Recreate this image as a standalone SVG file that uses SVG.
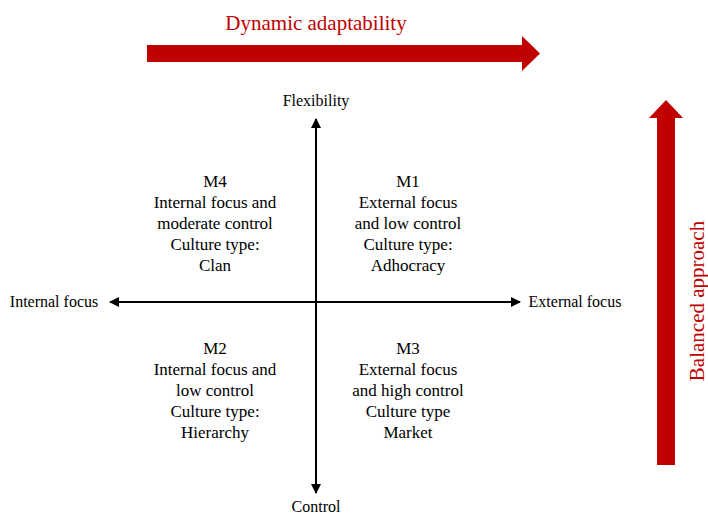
<svg xmlns="http://www.w3.org/2000/svg" width="708" height="515" viewBox="0 0 708 515">
<defs>
<style>
.t{font-family:"Liberation Serif","Times New Roman",serif;fill:#000;text-anchor:middle}
.q{font-size:17px}
.lab{font-size:16px}
.red{font-family:"Liberation Serif","Times New Roman",serif;fill:#C00000;font-size:21px;text-anchor:middle}
.ax{stroke:#000;stroke-width:2;fill:none}
</style>
<marker id="ah" viewBox="0 0 10 10" refX="9" refY="5" markerWidth="10" markerHeight="10" markerUnits="userSpaceOnUse" orient="auto">
<path d="M0,0 L10,5 L0,10 z" fill="#000"/>
</marker>
</defs>
<rect width="708" height="515" fill="#fff"/>
<g id="dynamic-arrow">
<polygon points="147,45 522,45 522,36 540,53.5 522,71 522,62 147,62" fill="#C00000"/>
<text class="red" x="316" y="30">Dynamic adaptability</text>
</g>
<g id="balanced-arrow">
<polygon points="657,465 657,118 649,118 666,100 683,118 675,118 675,465" fill="#C00000"/>
<text class="red" transform="translate(704,301) rotate(-90)">Balanced approach</text>
</g>
<g id="connectors">
<line class="ax" x1="316" y1="302" x2="316" y2="119" marker-end="url(#ah)"/>
<line class="ax" x1="316" y1="302" x2="316" y2="493" marker-end="url(#ah)"/>
<line class="ax" x1="316" y1="302" x2="110" y2="302" marker-end="url(#ah)"/>
<line class="ax" x1="316" y1="302" x2="520" y2="302" marker-end="url(#ah)"/>
</g>
<g id="flexibility"><text class="t lab" x="316" y="106">Flexibility</text></g>
<g id="control"><text class="t lab" x="316" y="512">Control</text></g>
<g id="internal"><text class="t lab" x="54" y="307">Internal focus</text></g>
<g id="external"><text class="t lab" x="575" y="307">External focus</text></g>
<g id="m4">
<text class="t q" x="215" y="187">M4</text>
<text class="t q" x="215" y="208">Internal focus and</text>
<text class="t q" x="215" y="229">moderate control</text>
<text class="t q" x="215" y="250">Culture type:</text>
<text class="t q" x="215" y="271">Clan</text>
</g>
<g id="m1">
<text class="t q" x="408" y="187">M1</text>
<text class="t q" x="408" y="208">External focus</text>
<text class="t q" x="408" y="229">and low control</text>
<text class="t q" x="408" y="250">Culture type:</text>
<text class="t q" x="408" y="271">Adhocracy</text>
</g>
<g id="m2">
<text class="t q" x="215" y="354">M2</text>
<text class="t q" x="215" y="375">Internal focus and</text>
<text class="t q" x="215" y="396">low control</text>
<text class="t q" x="215" y="417">Culture type:</text>
<text class="t q" x="215" y="438">Hierarchy</text>
</g>
<g id="m3">
<text class="t q" x="408" y="354">M3</text>
<text class="t q" x="408" y="375">External focus</text>
<text class="t q" x="408" y="396">and high control</text>
<text class="t q" x="408" y="417">Culture type</text>
<text class="t q" x="408" y="438">Market</text>
</g>
</svg>
